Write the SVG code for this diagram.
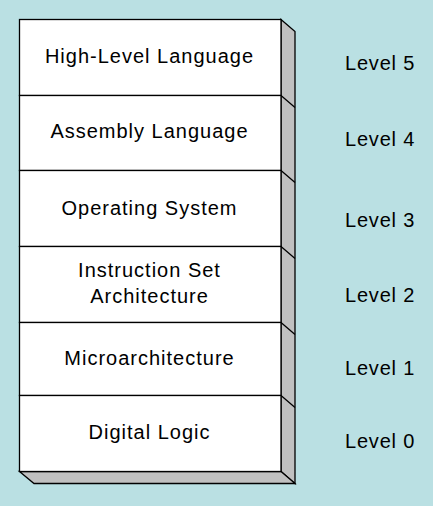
<svg xmlns="http://www.w3.org/2000/svg" width="433" height="506" viewBox="0 0 433 506">
<style>
.face{fill:#ffffff;stroke:#000;stroke-width:1.3}
.side{fill:#c0c0c0;stroke:#000;stroke-width:1.3;stroke-linejoin:miter}
.ln{stroke:#000;stroke-width:1.3;fill:none}
.t{font-family:"Liberation Sans",Arial,sans-serif;font-size:20px;fill:#000;letter-spacing:0.8px}
.c{text-anchor:middle;letter-spacing:1px}
</style>
<rect width="433" height="506" fill="#bae0e3"/>
<g id="stack-sides">
<polygon class="side" points="281,19.5 295,31.5 295,483.5 281,471.5"/>
<polygon class="side" points="19.5,471.5 34,483.5 295,483.5 281,471.5"/>
<path class="ln" d="M281,95.5 L295,107.5 M281,170.5 L295,182.5 M281,246.5 L295,258.5 M281,322.5 L295,334.5 M281,395.5 L295,407.5"/>
</g>
<g id="level5">
<rect class="face" x="19.5" y="19.5" width="261.5" height="76"/>
<text class="t c" x="149.5" y="63.3">High-Level Language</text>
<text class="t" x="345" y="70">Level 5</text>
</g>
<g id="level4">
<rect class="face" x="19.5" y="95.5" width="261.5" height="75"/>
<text class="t c" x="149.5" y="138.3">Assembly Language</text>
<text class="t" x="345" y="146">Level 4</text>
</g>
<g id="level3">
<rect class="face" x="19.5" y="170.5" width="261.5" height="76"/>
<text class="t c" x="149.5" y="215">Operating System</text>
<text class="t" x="345" y="226.7">Level 3</text>
</g>
<g id="level2">
<rect class="face" x="19.5" y="246.5" width="261.5" height="76"/>
<text class="t c" x="149.5" y="277.3">Instruction Set</text>
<text class="t c" x="149.5" y="302.7">Architecture</text>
<text class="t" x="345" y="301.7">Level 2</text>
</g>
<g id="level1">
<rect class="face" x="19.5" y="322.5" width="261.5" height="73"/>
<text class="t c" x="149.5" y="365">Microarchitecture</text>
<text class="t" x="345" y="375">Level 1</text>
</g>
<g id="level0">
<rect class="face" x="19.5" y="395.5" width="261.5" height="76"/>
<text class="t c" x="149.5" y="439.3">Digital Logic</text>
<text class="t" x="345" y="448.3">Level 0</text>
</g>
</svg>
